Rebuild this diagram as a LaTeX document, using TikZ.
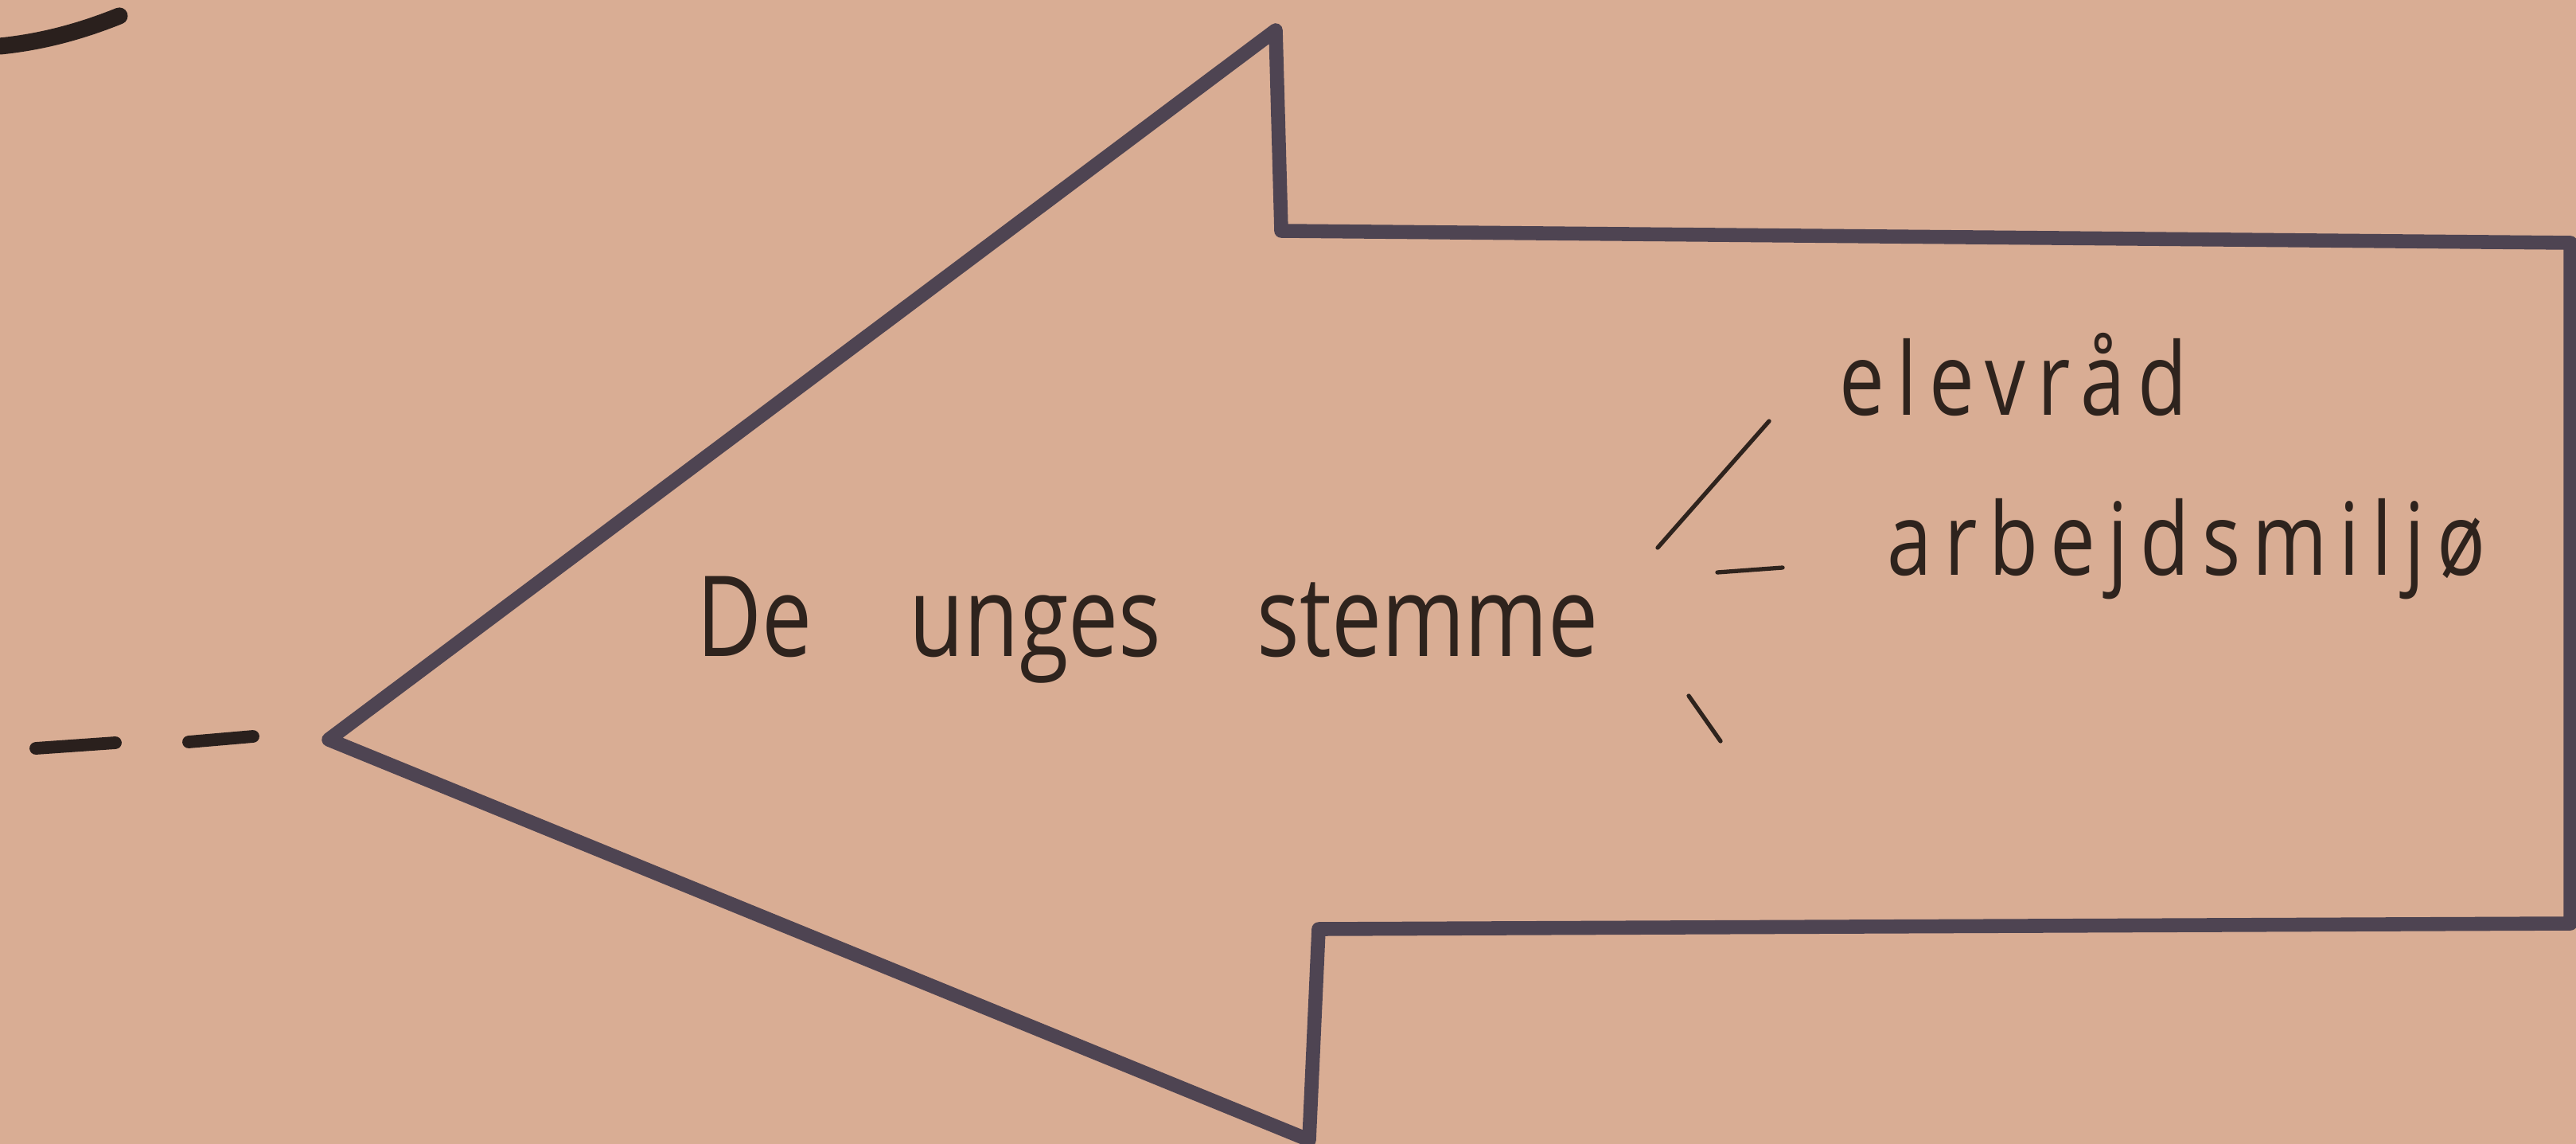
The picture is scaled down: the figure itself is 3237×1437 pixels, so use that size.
\documentclass[tikz,border=0pt]{standalone}
\usepackage{fontspec}
\setmainfont{Open Sans}
\newfontfamily\handfont[FakeStretch=0.8]{Open Sans}
\newfontfamily\handspfont[FakeStretch=0.8,LetterSpace=12]{Open Sans}
\definecolor{paper}{HTML}{D9AD94}
\definecolor{marker}{HTML}{4E4452}
\definecolor{pen}{HTML}{2E231D}
\definecolor{blackmarker}{HTML}{2A201D}
\tikzset{
  outline/.style={draw=marker, line width=5pt, line join=round, line cap=round},
  handtext/.style={text=pen, inner sep=0pt, font=\handfont\fontsize{40}{44}\selectfont},
  handsptext/.style={text=pen, inner sep=0pt, font=\handspfont\fontsize{36}{40}\selectfont},
  penstroke/.style={draw=pen, line width=1.5pt, line cap=round},
  dashstroke/.style={draw=blackmarker, line width=4.5pt, line cap=round}
}
\begin{document}
\begin{tikzpicture}[x=0.01cm,y=-0.01cm]
\useasboundingbox (0,0) rectangle (3237,1437);
\fill[paper] (0,0) rectangle (3237,1437);
% arrow outline
\draw[outline] (1657,1167) -- (3230,1160) -- (3230,305) -- (1610,290)
  -- (1603,38) -- (413,929) -- (1645,1432) -- cycle;
% dashes left of the tip
\draw[dashstroke] (45,940) -- (145,933);
\draw[dashstroke] (237,932) -- (318,925);
% stroke at top left
\draw[draw=blackmarker, line width=6pt, line cap=round] (0,58) .. controls (60,52) and (110,36) .. (150,20);
% texts
\node[handtext, anchor=base west] (main) at (875,824) {De\hspace{1.22cm}unges\hspace{1.2cm}stemme};
\node[handsptext, anchor=base west] (elev) at (2311,522) {elevråd};
\node[handsptext, anchor=base west] (arb) at (2371,722) {arbejdsmiljø};
% bracket marks
\draw[penstroke] (2223,529) -- (2083,688);
\draw[penstroke] (2158,719) -- (2240,713);
\draw[penstroke] (2122,874) -- (2162,931);
\end{tikzpicture}
\end{document}
